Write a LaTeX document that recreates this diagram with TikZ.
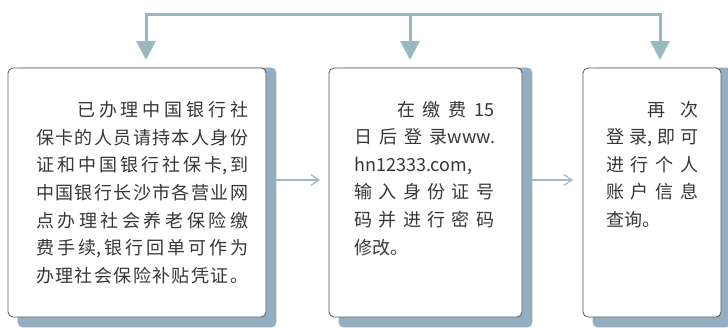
\documentclass[tikz,border=0pt]{standalone}
\usepackage{fontspec}
\setmainfont{Noto Sans CJK SC}
\usetikzlibrary{arrows.meta}
\definecolor{conncol}{RGB}{152,184,194}
\definecolor{hcol}{RGB}{160,186,202}
\definecolor{shadcol}{RGB}{148,174,194}
\definecolor{txtcol}{RGB}{55,55,55}
\definecolor{boxcol}{RGB}{85,85,85}
\pgfdeclarelayer{bg}
\pgfsetlayers{bg,main}
\makeatletter
\newcommand\jl[5]{% name, x1, x2, y, items
  \node[txt, anchor=base west] (#1) at (#2,#4) {\hbox to \dimexpr #3pt-#2pt\relax{\hskip0pt plus -1fil\@tfor\jx:=#5\do{\hfil\jx}}};}
\makeatother
\tikzset{
  txt/.style={inner sep=0pt, text=txtcol, font=\fontsize{18}{27}\selectfont},
  box/.style={draw=boxcol, line width=0.8pt, fill=white, rounded corners=5pt, inner sep=0pt},
  conn/.style={draw=conncol, line width=3pt},
  tri/.style={-{Triangle[width=19pt,length=19pt]}},
  harrow/.style={draw=hcol, line width=1.3pt, -{Straight Barb[length=8pt,width=11pt]}},
  shad/.style={fill=shadcol, rounded corners=5pt}
}
\begin{document}
\begin{tikzpicture}[x=1pt,y=-1pt]
\useasboundingbox (0,0) rectangle (728,327);
% boxes
\node[box, minimum width=258pt, minimum height=249pt] (b1) at (137,192.5) {};
\node[box, minimum width=193pt, minimum height=249pt] (b2) at (425.5,192.5) {};
\node[box, minimum width=138pt, minimum height=249pt] (b3) at (652,192.5) {};
% coordinates for connectors
\coordinate (tl) at (146,14);
\coordinate (tm) at (410,14);
\coordinate (tr) at (660,14);
\coordinate (a1) at (146,60);
\coordinate (a2) at (410,60);
\coordinate (a3) at (660,60);
\coordinate (h1s) at (266,180);
\coordinate (h1e) at (320,180);
\coordinate (h2s) at (522,180);
\coordinate (h2e) at (573,180);
\begin{pgfonlayer}{bg}
  \draw[conn, {Triangle[width=19pt,length=19pt]}-{Triangle[width=19pt,length=19pt]}] (a1) -- (tl) -- (tr) -- (a3);
  \draw[conn, tri] (tm) -- (a2);
  \draw[harrow] (h1s) -- (h1e);
  \draw[harrow] (h2s) -- (h2e);
  \fill[shad] ([xshift=10pt]b1.north west) rectangle ([xshift=10pt,yshift=-10pt]b1.south east);
  \fill[shad] ([xshift=10pt]b2.north west) rectangle ([xshift=10pt,yshift=-10pt]b2.south east);
  \fill[shad] ([xshift=10pt]b3.north west) rectangle ([xshift=10pt,yshift=-10pt]b3.south east);
\end{pgfonlayer}
% box 1 text
\jl{p1}{77}{248}{116.8}{已办理中国银行社}
\jl{p2}{36}{248}{144.35}{保卡的人员请持本人身份}
\jl{p3}{36}{248}{171.9}{证和中国银行社保{卡,}到}
\jl{p4}{36}{248}{199.45}{中国银行长沙市各营业网}
\jl{p5}{36}{248}{227.0}{点办理社会养老保险缴}
\jl{p6}{36}{248}{254.55}{费手{续,}银行回单可作为}
\jl{p7}{36}{248}{282.1}{办理社会保险补贴凭证。}
% box 2 text
\jl{q1}{397}{494}{116}{在缴费{15}}
\jl{q2}{354}{495}{143.6}{日后登{录www.}}
\node[txt, anchor=base west] (q3) at (354,171.2) {hn12333.com,};
\jl{q4}{354}{494}{198.8}{输入身份证号}
\jl{q5}{354}{494}{226.4}{码并进行密码}
\node[txt, anchor=base west] (q6) at (354,254) {修改。};
% box 3 text
\jl{r1}{647}{698}{116}{再次}
\jl{r2}{606}{698}{143.6}{登{录,}即可}
\jl{r3}{606}{698}{171.2}{进行个人}
\jl{r4}{606}{698}{198.8}{账户信息}
\node[txt, anchor=base west] (r5) at (606,226.4) {查询。};
\end{tikzpicture}
\end{document}
